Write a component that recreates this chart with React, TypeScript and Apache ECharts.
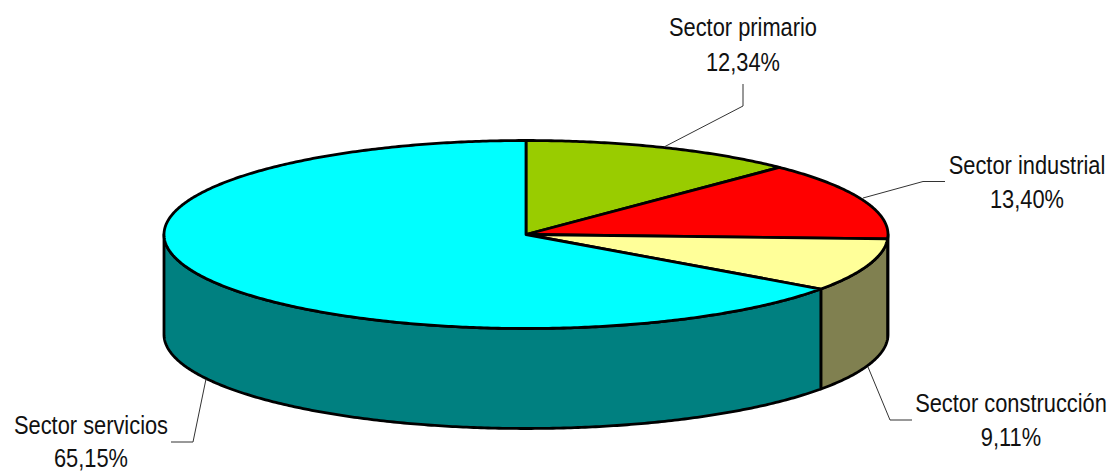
import React, { useEffect, useRef } from "react";
import * as echarts from "echarts";

const sectors = ["Sector primario", "Sector industrial", "Sector construcción", "Sector servicios"];
const shares = [12.34, 13.4, 9.11, 65.15];
const shareLabels = ["12,34%", "13,40%", "9,11%", "65,15%"];
const topColors = ["#99CC00", "#FF0000", "#FFFF99", "#00FFFF"];
const sideColors = ["#4D6600", "#800000", "#808050", "#008080"];

const CX = 526, CY = 234.5, RX = 362, RY = 94, DEPTH = 100;
const total = shares.reduce((a, b) => a + b, 0);
const cumulative = shares.map((_, i) => shares.slice(0, i).reduce((a, b) => a + b, 0));
const toAngle = (v: number) => (v / total) * Math.PI * 2;
const pt = (a: number, dy = 0): [number, number] => [CX + RX * Math.sin(a), CY - RY * Math.cos(a) + dy];
const arcPts = (a0: number, a1: number, dy = 0) => {
  const n = Math.max(2, Math.ceil((a1 - a0) / 0.01));
  const out: [number, number][] = [];
  for (let i = 0; i <= n; i++) out.push(pt(a0 + ((a1 - a0) * i) / n, dy));
  return out;
};

const stroke = { stroke: "#000", lineWidth: 2.8, lineJoin: "round" as const };

const renderTop = (_: any, api: any) => {
  const s = toAngle(api.value(0));
  const e = toAngle(api.value(0) + api.value(1));
  return {
    type: "polygon",
    shape: { points: [[CX, CY], ...arcPts(s, e)] },
    style: { fill: topColors[api.value(2)], ...stroke },
  };
};
const renderSide = (_: any, api: any) => {
  const s = Math.max(toAngle(api.value(0)), Math.PI / 2);
  const e = Math.min(toAngle(api.value(0) + api.value(1)), (Math.PI * 3) / 2);
  if (e <= s) return { type: "group", children: [] };
  return {
    type: "polygon",
    shape: { points: [...arcPts(s, e), ...arcPts(s, e, DEPTH).reverse()] },
    style: { fill: sideColors[api.value(2)], ...stroke },
  };
};

const seriesData = shares.map((v, i) => [cumulative[i], v, i]);

const labelPos: [number, number, number, number][] = [
  [743, 27, 743, 62],
  [1027, 165, 1027, 199],
  [1011, 403, 1011, 437],
  [91, 425, 91, 458],
];
const leaders: [number, number][][] = [
  [[743, 84], [743, 106], [664, 147]],
  [[945, 181.5], [923, 181.5], [863, 198]],
  [[912, 420], [890, 420], [868, 367]],
  [[171, 442], [193, 442], [206, 379]],
];

const textEl = (text: string, x: number, y: number) => ({
  type: "text",
  x,
  y,
  scaleX: 0.84,
  z: 10,
  style: {
    text,
    fill: "#111",
    font: '26px "Liberation Sans", Arial, sans-serif',
    textAlign: "center",
    textVerticalAlign: "middle",
  },
});

export default function App() {
  const ref = useRef<HTMLDivElement>(null);
  useEffect(() => {
    const chart = echarts.init(ref.current!, undefined, { renderer: "svg" });
    chart.setOption({
      animation: false,
      backgroundColor: "#fff",
      series: [
        { type: "custom", coordinateSystem: "none", silent: true, z: 1, renderItem: renderSide, data: seriesData },
        { type: "custom", coordinateSystem: "none", silent: true, z: 2, renderItem: renderTop, data: seriesData },
      ],
      graphic: {
        elements: [
          ...leaders.map((points) => ({
            type: "polyline",
            z: 5,
            shape: { points },
            style: { stroke: "#333", lineWidth: 1, fill: "none" },
          })),
          ...sectors.flatMap((name, i) => [
            textEl(name, labelPos[i][0], labelPos[i][1]),
            textEl(shareLabels[i], labelPos[i][2], labelPos[i][3]),
          ]),
        ],
      },
    });
    return () => chart.dispose();
  }, []);
  return <div ref={ref} style={{ width: 1114, height: 472, position: "absolute", left: 0, top: 0 }} />;
}
